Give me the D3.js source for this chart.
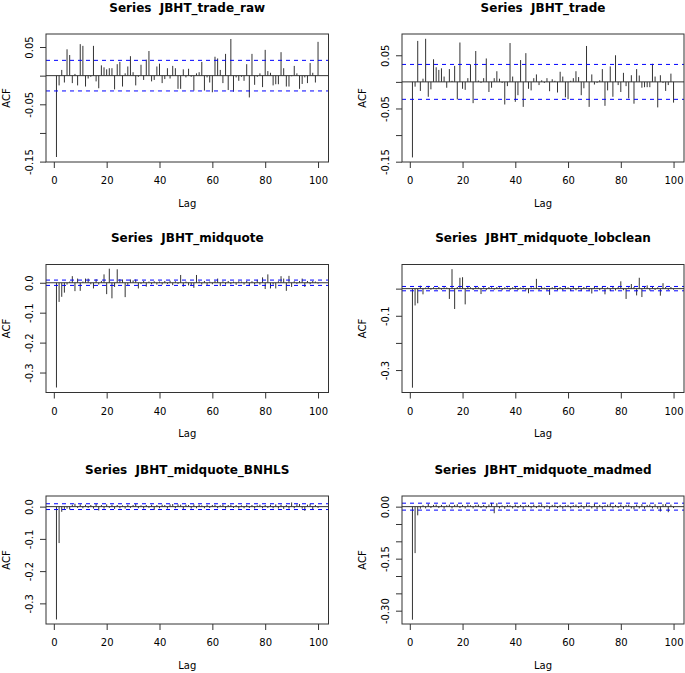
<!DOCTYPE html>
<html><head><meta charset="utf-8">
<script src="https://cdn.jsdelivr.net/npm/d3@7"></script>
<style>
body{margin:0;background:#fff}
svg{display:block}
text{font-family:"DejaVu Sans",sans-serif;fill:#000}
</style>
</head><body>
<svg id="c" width="685" height="673"></svg>
<script>
// ---------- data ----------
const lags = [1,2,3,4,5,6,7,8,9,10,11,12,13,14,15,16,17,18,19,20,21,22,23,24,25,26,27,28,29,30,31,32,33,34,35,36,37,38,39,40,41,42,43,44,45,46,47,48,49,50,51,52,53,54,55,56,57,58,59,60,61,62,63,64,65,66,67,68,69,70,71,72,73,74,75,76,77,78,79,80,81,82,83,84,85,86,87,88,89,90,91,92,93,94,95,96,97,98,99,100];

const titles = ["Series  JBHT_trade_raw","Series  JBHT_trade","Series  JBHT_midquote","Series  JBHT_midquote_lobclean","Series  JBHT_midquote_BNHLS","Series  JBHT_midquote_madmed"];

const acfTradeRaw = [-0.142,-0.017,0.010,-0.012,0.046,0.036,-0.013,0.003,-0.017,0.055,0.052,-0.019,-0.005,-0.002,0.052,-0.010,-0.022,0.018,0.0145,0.011,0.013,0.013,-0.024,0.020,0.024,-0.019,0.004,0.016,0.034,0.006,-0.017,-0.002,0.019,-0.0075,0.028,0.043,-0.010,-0.0075,0.016,0.021,-0.013,-0.006,0.013,-0.005,0.017,0.013,-0.023,-0.023,0.011,-0.003,0.012,-0.002,-0.026,0.004,0.006,0.024,-0.026,-0.003,-0.012,-0.029,0.033,0.030,0.010,-0.013,0.038,-0.025,0.064,-0.028,-0.003,-0.009,-0.002,-0.009,0.020,-0.038,0.038,-0.016,-0.002,0.004,-0.020,0.045,0.008,0.005,-0.017,-0.015,-0.015,0.041,0.013,-0.019,-0.019,-0.001,0.017,0.004,-0.023,-0.0145,-0.003,-0.013,0.022,0.005,-0.012,0.059];

const acfTrade = [-0.142,-0.009,0.077,-0.017,0.006,0.081,-0.028,-0.014,0.0425,0.0275,0.0225,0.0255,0.010,-0.011,0.024,0.002,0.030,-0.033,0.074,-0.013,-0.015,0.007,0.033,-0.040,0.058,0.0025,-0.002,0.007,0.044,-0.019,-0.011,0.007,0.020,0.006,-0.002,-0.0425,-0.008,0.073,0.010,-0.0375,-0.025,0.041,-0.047,0.054,-0.013,-0.016,0.007,0.014,-0.006,0.003,-0.002,0.007,-0.0175,0.005,0.002,-0.020,0.019,0.010,-0.029,-0.0325,0.002,0.007,0.020,0.009,-0.025,-0.012,0.0675,-0.047,0.014,-0.005,-0.002,0.003,0.024,-0.045,-0.016,0.029,-0.028,0.050,-0.006,-0.019,0.017,-0.008,-0.031,0.0125,-0.041,0.024,0.012,-0.011,-0.010,-0.010,-0.010,0.034,0.010,-0.048,0.0125,-0.002,-0.017,-0.006,0.0155,-0.039];

const acfMidquote = [-0.350,-0.064,-0.047,-0.033,-0.006,0.004,0.022,-0.028,0.014,-0.027,0.004,0.014,0.014,-0.005,-0.019,0.012,-0.006,0.006,0.028,-0.038,0.047,-0.052,-0.014,0.045,0.012,0.011,-0.048,-0.007,0.011,0.008,0.011,-0.019,-0.004,0.006,-0.013,0.004,-0.005,0.005,-0.006,0.004,-0.006,0.006,-0.004,0.007,-0.008,0.005,-0.004,0.026,-0.013,0.004,-0.009,-0.010,-0.017,0.026,0.005,-0.006,0.006,-0.007,0.004,-0.005,0.006,0.014,-0.011,0.005,-0.006,0.006,-0.005,0.004,-0.007,0.005,0.004,-0.006,0.006,-0.011,0.005,-0.006,0.010,-0.006,0.018,-0.021,0.028,-0.019,-0.006,-0.019,0.005,0.022,0.014,-0.027,0.023,-0.014,0.005,-0.004,0.006,0.014,-0.014,0.006,-0.005,0.006,0.004,-0.003];

const acfLobclean = [-0.365,-0.062,-0.054,0.011,-0.021,0.004,0.010,-0.004,0.005,-0.003,0.006,-0.004,0.005,0.004,-0.038,0.0716,-0.075,0.006,0.040,0.042,-0.058,0.006,0.005,-0.005,0.006,0.005,-0.020,0.005,-0.006,0.006,0.005,-0.004,0.006,0.005,-0.006,0.005,0.004,-0.005,0.005,0.006,-0.005,0.004,0.005,-0.006,-0.017,0.005,0.004,0.036,-0.005,0.006,0.004,-0.006,-0.023,0.005,0.007,-0.005,0.006,-0.006,0.007,0.005,-0.008,0.007,-0.006,0.005,-0.009,0.006,0.005,-0.007,-0.018,0.006,0.004,-0.006,0.007,-0.021,0.005,-0.009,0.008,-0.007,0.006,0.027,-0.006,-0.038,0.005,0.017,0.006,-0.025,0.040,-0.031,0.006,0.012,-0.007,0.006,-0.005,0.005,-0.026,0.020,0.006,-0.005,0.006,-0.004];

const acfBNHLS = [-0.350,-0.113,-0.016,-0.007,-0.006,-0.009,0.006,0.009,-0.004,0.007,-0.005,0.006,-0.004,0.005,-0.006,0.008,-0.012,0.005,-0.006,0.007,-0.004,0.006,-0.007,0.005,-0.005,0.004,-0.006,0.006,-0.004,0.005,0.008,-0.005,0.004,-0.006,0.005,-0.004,0.006,-0.010,0.005,-0.005,0.006,0.005,-0.006,0.007,0.008,-0.005,0.007,0.006,-0.007,0.006,0.005,-0.006,0.007,-0.005,0.006,0.004,-0.005,0.006,-0.004,0.005,0.006,-0.005,0.004,0.007,-0.006,0.005,0.006,-0.004,0.005,-0.006,0.004,-0.005,0.006,-0.004,0.005,-0.006,0.004,0.006,-0.005,0.005,-0.004,0.006,-0.005,0.007,-0.006,0.006,-0.007,0.005,-0.006,0.013,-0.005,0.007,0.008,-0.006,-0.013,0.006,0.009,-0.008,0.005,-0.004];

const acfMadmed = [-0.326,-0.134,-0.025,-0.006,0.004,-0.005,0.008,-0.004,0.005,0.006,-0.004,0.005,-0.006,0.004,0.006,-0.005,0.005,0.007,-0.004,0.005,-0.005,0.006,0.004,-0.005,0.004,0.006,-0.004,0.005,-0.005,0.006,0.011,-0.019,0.010,-0.005,0.004,-0.006,0.005,0.004,-0.005,0.006,-0.004,0.005,-0.006,0.004,0.005,-0.005,0.006,-0.004,0.005,0.007,-0.005,0.004,-0.006,0.005,0.006,-0.004,0.005,-0.006,0.004,0.005,-0.005,0.004,0.006,-0.004,0.005,-0.006,0.007,0.004,-0.005,0.008,-0.007,0.005,-0.006,0.004,0.006,0.008,-0.005,0.005,-0.004,0.006,-0.006,0.005,0.006,-0.005,-0.008,0.006,-0.005,0.007,-0.006,0.005,0.006,-0.005,0.007,-0.006,-0.014,0.007,0.008,-0.016,0.006,-0.004];

const seriesValues = [acfTradeRaw, acfTrade, acfMidquote, acfLobclean, acfBNHLS, acfMadmed];
const confLimits = [0.0267, 0.0328, 0.0089, 0.0080, 0.0090, 0.0100];
const yLimits = [[-0.1507,0.0727],[-0.1506,0.0900],[-0.3667,0.0610],[-0.3827,0.0889],[-0.3640,0.0330],[-0.3384,0.0307]];
const yTickValues = [
  [-0.15,-0.10,-0.05,0,0.05],
  [-0.15,-0.10,-0.05,0,0.05],
  [-0.3,-0.2,-0.1,0],
  [-0.3,-0.2,-0.1,0],
  [-0.3,-0.2,-0.1,0],
  [-0.30,-0.25,-0.20,-0.15,-0.10,-0.05,0]
];
const yTickLabels = [
  ["-0.15","","-0.05","","0.05"],
  ["-0.15","","-0.05","","0.05"],
  ["-0.3","-0.2","-0.1","0.0"],
  ["-0.3","","-0.1",""],
  ["-0.3","-0.2","-0.1","0.0"],
  ["-0.30","","","-0.15","","","0.00"]
];
const xTickValues = [0,20,40,60,80,100];
const xLabel = "Lag", yLabel = "ACF";

// ---------- layout ----------
const svg = d3.select("#c");
const cols = [{l:46, r:328.5}, {l:402, r:684}];
const rows = [{t:34, b:162}, {t:264.5, b:392.5}, {t:496, b:624}];
const ink = "#333";

seriesValues.forEach((vals, i) => {
  const c = cols[i % 2], r = rows[Math.floor(i / 2)];
  const lo = d3.min(lags), hi = d3.max(lags), pad = 0.04 * (hi - lo);
  const x = d3.scaleLinear().domain([lo - pad, hi + pad]).range([c.l, c.r]);
  const y = d3.scaleLinear().domain(yLimits[i]).range([r.b, r.t]);
  const g = svg.append("g");

  // spikes
  g.selectAll("line.spike").data(vals).join("line")
    .attr("class", "spike")
    .attr("x1", (d, j) => x(lags[j])).attr("x2", (d, j) => x(lags[j]))
    .attr("y1", y(0)).attr("y2", d => y(d))
    .attr("stroke", ink).attr("stroke-width", 1);

  // zero line
  g.append("line").attr("x1", c.l).attr("x2", c.r).attr("y1", y(0)).attr("y2", y(0))
    .attr("stroke", ink).attr("stroke-width", 1);

  // confidence limits
  [confLimits[i], -confLimits[i]].forEach(v => {
    g.append("line").attr("x1", c.l).attr("x2", c.r).attr("y1", y(v)).attr("y2", y(v))
      .attr("stroke", "#0000ff").attr("stroke-width", 1).attr("stroke-dasharray", "4,4");
  });

  // box
  g.append("rect").attr("x", c.l).attr("y", r.t).attr("width", c.r - c.l).attr("height", r.b - r.t)
    .attr("fill", "none").attr("stroke", ink).attr("stroke-width", 1);

  // x axis
  const xa = g.append("g").attr("transform", `translate(0,${r.b})`)
    .call(d3.axisBottom(x).tickValues(xTickValues).tickSize(6).tickSizeOuter(0).tickFormat(d3.format("d")));
  xa.select(".domain").remove();
  xa.selectAll("text").attr("y", 22).attr("dy", null).style("font-size", "10px").style("font-family", "DejaVu Sans").attr("fill", "#222");
  xa.selectAll("line").attr("stroke", ink);

  // y axis
  const labels = yTickLabels[i];
  const ya = g.append("g").attr("transform", `translate(${c.l},0)`)
    .call(d3.axisLeft(y).tickValues(yTickValues[i]).tickSize(6).tickSizeOuter(0)
      .tickFormat((d, k) => labels[k]));
  ya.select(".domain").remove();
  ya.selectAll("line").attr("stroke", ink);
  ya.selectAll("text").attr("x", 0).attr("y", 0).attr("dy", null)
    .attr("text-anchor", "middle").attr("transform", "translate(-13,0) rotate(-90)")
    .style("font-size", "10px").style("font-family", "DejaVu Sans").attr("fill", "#222");

  // title
  g.append("text").attr("x", (c.l + c.r) / 2).attr("y", r.t - 22.5)
    .attr("text-anchor", "middle").style("font-size", "12px").style("font-weight", "bold")
    .style("white-space", "pre").attr("xml:space", "preserve")
    .text(titles[i]);

  // axis titles
  g.append("text").attr("x", (c.l + c.r) / 2).attr("y", r.b + 44.5)
    .attr("text-anchor", "middle").style("font-size", "10px").attr("fill", "#222").text(xLabel);
  g.append("text").attr("transform", `translate(${c.l - 36.5},${(r.t + r.b) / 2}) rotate(-90)`)
    .attr("text-anchor", "middle").style("font-size", "10px").attr("fill", "#222").text(yLabel);
});
</script>
</body></html>
